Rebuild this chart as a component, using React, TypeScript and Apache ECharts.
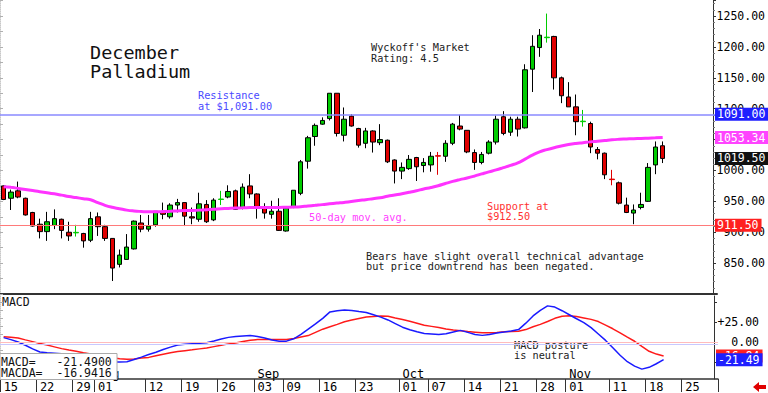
import React, { useEffect, useRef } from 'react';
import * as echarts from 'echarts';

const MONO = '"DejaVu Sans Mono", "Liberation Mono", monospace';

// Trading days (2024), plus a few future sessions on the axis
const julDays = [15, 16, 17, 18, 19, 22, 23, 24, 25, 26, 29, 30, 31];
const augDays = [1, 2, 5, 6, 7, 8, 9, 12, 13, 14, 15, 16, 19, 20, 21, 22, 23, 26, 27, 28, 29, 30];
const sepDays = [3, 4, 5, 6, 9, 10, 11, 12, 13, 16, 17, 18, 19, 20, 23, 24, 25, 26, 27, 30];
const octDays = [1, 2, 3, 4, 7, 8, 9, 10, 11, 14, 15, 16, 17, 18, 21, 22, 23, 24, 25, 28, 29, 30, 31];
const novDays = [1, 4, 5, 6, 7, 8, 11, 12, 13, 14, 15, 18, 19, 20, 21, 22, 25, 26, 27, 29];
const decDays = [2];

const pad = (n: number) => (n < 10 ? '0' + n : '' + n);
const categories: string[] = [
  ...julDays.map((d) => '07-' + pad(d)),
  ...augDays.map((d) => '08-' + pad(d)),
  ...sepDays.map((d) => '09-' + pad(d)),
  ...octDays.map((d) => '10-' + pad(d)),
  ...novDays.map((d) => '11-' + pad(d)),
  ...decDays.map((d) => '12-' + pad(d)),
];

const tickLabelDates = ['07-15', '07-22', '07-29', '08-01', '08-12', '08-19', '08-26', '09-03', '09-09', '09-16', '09-23', '10-01', '10-07', '10-14', '10-21', '10-28', '11-01', '11-11', '11-18', '11-25'];
const monthLabelDates = ['08-01', '09-03', '10-01', '11-01'];
const monthLabelNames = ['Aug', 'Sep', 'Oct', 'Nov'];

// [open, close, low, high]
const candles: number[][] = [
  [975, 953, 952, 976], [955, 965, 936, 969], [967, 957, 955, 982], [955, 928, 927, 956], [932, 910, 909, 933],
  [913, 901, 890, 922], [901, 917, 886, 933], [911, 922, 905, 937], [921, 903, 890, 922], [900, 894, 886, 917],
  [899, 899.8, 893, 912], [898, 886, 875, 899], [887, 922, 884, 933], [925, 909, 894, 932], [909, 890, 886, 912],
  [890, 842, 821, 890], [848, 863, 843, 872], [856, 876, 856, 897], [873, 918, 872, 919], [915, 905, 900, 928],
  [905, 910, 901, 928], [912, 934, 909, 934], [933, 929, 921, 948], [925, 944, 922, 947], [944, 948, 932, 954],
  [948, 926, 910, 948], [925, 923, 913, 940], [921, 946, 917, 964], [945, 917, 915, 952], [920, 952, 918, 955],
  [953, 953.8, 944, 967], [957, 966, 955, 976], [967, 937, 936, 969], [939, 973, 937, 979], [975, 962, 955, 994],
  [962, 940, 922, 963], [941, 931, 922, 947], [929, 934, 922, 951], [934, 903, 902, 955], [902, 939, 901, 940],
  [940, 968, 939, 968], [963, 1014, 960, 1017], [1015, 1053, 1003, 1056], [1055, 1073, 1040, 1076], [1075, 1081, 1074, 1086],
  [1084, 1125, 1081, 1125], [1125, 1060, 1055, 1125], [1057, 1083, 1047, 1102], [1088, 1072, 1071, 1091], [1068, 1041, 1037, 1069],
  [1044, 1064, 1036, 1069], [1064, 1046, 1029, 1065], [1045, 1050, 1041, 1075], [1049, 1014, 1012, 1050], [1017, 999, 979, 1018],
  [999, 1005, 986, 1013], [1003, 1018, 1001, 1025], [1021, 1006, 983, 1022], [1008, 1013, 997, 1020], [1009, 1023, 998, 1030],
  [1024, 1023.2, 993, 1030], [1023, 1044, 1014, 1049], [1044, 1075, 1041, 1077], [1072, 1067, 1065, 1090], [1065, 1030, 1028, 1065],
  [1029, 1013, 1001, 1034], [1013, 1026, 1010, 1030], [1028, 1046, 1026, 1049], [1046, 1083, 1042, 1089], [1087, 1060, 1057, 1096],
  [1062, 1083, 1056, 1087], [1083, 1067, 1055, 1087], [1069, 1163, 1068, 1172], [1164, 1201, 1127, 1219], [1199, 1219, 1184, 1229],
  [1215, 1215.8, 1207, 1254], [1217, 1150, 1131, 1218], [1150, 1121, 1109, 1152], [1119, 1103, 1103, 1143], [1103, 1079, 1057, 1123],
  [1079, 1079.8, 1071, 1098], [1076, 1038, 1028, 1079], [1034, 1028, 1018, 1038], [1028, 993, 986, 1029], [986, 985.2, 976, 1001],
  [980, 947, 945, 982], [944, 932, 931, 956], [931, 936, 913, 945], [940, 945, 937, 964], [950, 1005, 949, 1012],
  [1009, 1038, 994, 1047], [1040, 1019.5, 1012, 1047],
];

const ma50 = [
  973.7, 972.8, 971, 969.2, 967.4, 965.6, 964, 962.2, 960.1, 957.9,
  956.1, 954.3, 952.5, 948, 943.6, 940.4, 938.1, 935.8, 934.4, 933.6,
  933.1, 933.1, 933.4, 933.9, 934.5, 935, 935.3, 935.8, 936.5, 937.1,
  937.9, 938.6, 939.2, 939.5, 939.9, 940.2, 940.2, 940.2, 940.2, 940.5,
  940.8, 941.3, 942.5, 943.6, 944.7, 946, 947.2, 948.3, 949.7, 951.5,
  952.7, 954.3, 955.9, 958.2, 960.3, 962.4, 964.7, 967.2, 970, 972.4,
  975.3, 978.9, 982.3, 985.2, 987.8, 990.9, 994.4, 997.8, 1000.9, 1004.5,
  1008.2, 1012.3, 1018.4, 1024.9, 1030.2, 1033.8, 1036.9, 1039.5, 1041.9, 1043.7,
  1045, 1046.3, 1047.2, 1048.4, 1049.7, 1050.5, 1051, 1051.5, 1051.8, 1052.3,
  1052.8, 1053.34,
];

const macd = [
  6, 3.5, 0.5, -3.5, -8, -11.9, -12.8, -13.3, -14, -16,
  -18, -20, -21.5, -22.8, -23.7, -24.2, -24.3, -24.1, -21.2, -18.3,
  -15, -12.2, -8.8, -5.8, -3.2, -2.4, -1.7, -1, -0.4, 1.8,
  4.2, 6.3, 7.3, 7.9, 8.5, 7.4, 5.5, 3, 1.6, 1.6,
  4.5, 10, 16.5, 23, 30, 38, 39.5, 40.5, 39.8, 38.5,
  37.3, 34.5, 31.5, 28, 23.5, 19, 15.8, 13.2, 11, 10.5,
  10, 10.8, 13, 15, 12.5, 10, 8.8, 10, 11.8, 13,
  14.3, 16, 24, 33, 40, 45.5, 44, 39.5, 34.5, 29.5,
  24.7, 18.5, 10.5, 2.5, -6.5, -16, -24, -29.5, -33.2, -31,
  -26.5, -21.49,
];

const macdSignal = [
  7, 6.5, 5.5, 3.2, 1, -1.2, -3.3, -5.5, -7.7, -9.5,
  -11, -12.8, -14.5, -15.8, -17.5, -19, -20.3, -21, -20.5, -19.5,
  -18.6, -16.5, -14.6, -12.8, -11.4, -10.2, -9.2, -8, -6.8, -5.2,
  -3.6, -1.8, -0.7, 1.1, 2.6, 3.6, 3.7, 3.7, 3.7, 3.7,
  5, 6.8, 8.5, 12.5, 16.5, 19.5, 22.5, 25.8, 28, 29.8,
  31.6, 32.3, 33, 32.5, 30.3, 28.5, 26.4, 24, 21.5, 20,
  18.5, 16.8, 15.5, 14.5, 13.6, 12.8, 12, 12, 12.5, 13.2,
  13.6, 13.8, 16, 19.5, 22.5, 26, 30, 32.5, 33.2, 32.3,
  30.5, 28.7, 26, 21.5, 17, 12, 6.5, 1.5, -5, -11,
  -14.5, -16.94,
];

const resistance = 1091;
const support = 911.5;
const lastClose = 1019.5;
const lastMa = 1053.34;
const lastMacd = -21.49;
const lastSignal = -16.94;
const macdTickValues = [-25, 0, 25, 50];
const macdLabelValues = [0, 25];
const macdLeftTicks = [-40, -30, -20, -10, 0, 10, 20, 30, 40, 50];

const GREEN = '#00cc00';
const RED = '#e00000';

const tag = (text: string, bg: string) => ({
  show: true,
  position: 'end',
  formatter: text,
  backgroundColor: bg,
  color: '#fff',
  fontFamily: MONO,
  fontSize: 11.5,
  lineHeight: 12,
  padding: [1, 3, 0, 2],
  distance: -2,
});

export default function App() {
  const ref = useRef<HTMLDivElement>(null);

  useEffect(() => {
    const chart = echarts.init(ref.current!, null, { renderer: 'svg' });

    const candleData = candles.map((c) => {
      const isDoji = Math.abs(c[0] - c[1]) < 1.5;
      if (isDoji) {
        const col = c[1] >= c[0] ? GREEN : RED;
        return { value: c, itemStyle: { borderColor: col, borderColor0: col } };
      }
      return { value: c };
    });

    const tickSet = new Set(tickLabelDates);

    const option: any = {
      animation: false,
      backgroundColor: '#fff',
      textStyle: { fontFamily: MONO },
      grid: [
        { left: 0, right: 50, top: 0, height: 294 },
        { left: 0, right: 50, top: 296, height: 84 },
      ],
      xAxis: [
        {
          type: 'category', gridIndex: 0, data: categories, boundaryGap: true, position: 'bottom',
          axisLine: { onZero: false, lineStyle: { color: '#333', width: 2 } },
          axisTick: { show: false }, axisLabel: { show: false }, splitLine: { show: false },
        },
        {
          type: 'category', gridIndex: 1, data: categories, boundaryGap: true, position: 'bottom',
          axisLine: { onZero: false, lineStyle: { color: '#333', width: 1.5 } },
          axisTick: {
            show: true, length: 13, lineStyle: { color: '#333' },
            interval: (i: number) => tickSet.has(categories[i]),
          },
          axisLabel: {
            interval: (i: number) => tickSet.has(categories[i]),
            formatter: (v: string) => v.slice(3),
            align: 'left', margin: 2, fontSize: 12, fontFamily: MONO, color: '#000',
          },
          splitLine: { show: false },
        },
        {
          type: 'category', gridIndex: 1, data: categories, boundaryGap: true, position: 'top', offset: -84,
          axisLine: { show: false, onZero: false }, axisTick: { show: false },
          axisLabel: {
            interval: (i: number) => monthLabelDates.indexOf(categories[i]) >= 0,
            formatter: (v: string) => {
              const k = monthLabelDates.indexOf(v);
              return k >= 0 ? monthLabelNames[k] : '';
            },
            align: 'left', margin: 0, fontSize: 12, fontFamily: MONO, color: '#000',
          },
          splitLine: { show: false },
        },
      ],
      yAxis: [
        {
          type: 'value', gridIndex: 0, position: 'right', offset: -4,
          min: 800, max: 1276, interval: 50,
          splitLine: { show: false },
          axisLine: { show: true, onZero: false, lineStyle: { color: '#333' } },
          axisTick: { show: true, length: 3, lineStyle: { color: '#333' } },
          minorTick: { show: true, splitNumber: 5, length: 2, lineStyle: { color: '#777' } },
          axisLabel: {
            align: 'right', margin: 52, fontFamily: MONO, fontSize: 11.5, color: '#000',
            formatter: (v: number) => (v >= 850 && v <= 1250 ? v.toFixed(2) : ''),
          },
        },
        {
          type: 'value', gridIndex: 1, position: 'right', offset: -4,
          min: -45.5, max: 57.8,
          splitLine: { show: false },
          axisLine: { show: true, onZero: false, lineStyle: { color: '#333' } },
          axisTick: { show: true, length: 3, lineStyle: { color: '#333' }, customValues: macdTickValues },
          axisLabel: {
            customValues: macdLabelValues,
            align: 'right', margin: 45, fontFamily: MONO, fontSize: 11.5, color: '#000',
            formatter: (v: number) => (v === 0 ? '0.00' : '+' + v.toFixed(2)),
          },
        },
        {
          type: 'value', gridIndex: 0, position: 'left',
          min: 800, max: 1276, interval: 25,
          splitLine: { show: false },
          axisLine: { show: true, onZero: false, lineStyle: { color: '#c8c8c8', type: 'dotted' } },
          axisTick: { show: true, inside: true, length: 3, lineStyle: { color: '#b0b0b0' } },
          axisLabel: { show: false },
        },
        {
          type: 'value', gridIndex: 1, position: 'left',
          min: -45.5, max: 57.8,
          splitLine: { show: false },
          axisLine: { show: true, onZero: false, lineStyle: { color: '#c8c8c8', type: 'dotted' } },
          axisTick: { show: true, inside: true, length: 3, lineStyle: { color: '#b0b0b0' }, customValues: macdLeftTicks },
          axisLabel: { show: false },
        },
      ],
      series: [
        {
          type: 'candlestick', xAxisIndex: 0, yAxisIndex: 0, data: candleData, barWidth: 5,
          itemStyle: { color: GREEN, color0: RED, borderColor: '#000', borderColor0: '#000', borderWidth: 1 },
          markLine: {
            symbol: 'none', silent: true, animation: false,
            data: [
              { yAxis: resistance, lineStyle: { color: '#8a8aff', width: 1.5, type: 'solid' }, label: tag(resistance.toFixed(2), '#1f1fff') },
              { yAxis: support, lineStyle: { color: '#ff7a7a', width: 1, type: 'solid' }, label: tag(support.toFixed(2), '#ff2020') },
              { yAxis: lastClose, lineStyle: { color: 'rgba(0,0,0,0)', width: 0 }, label: tag(lastClose.toFixed(2), '#111') },
            ],
          },
        },
        {
          type: 'line', xAxisIndex: 0, yAxisIndex: 0, data: ma50, smooth: true, showSymbol: false,
          lineStyle: { color: '#ff33ff', width: 3 },
          markLine: {
            symbol: 'none', silent: true, animation: false,
            data: [{ yAxis: lastMa, lineStyle: { color: 'rgba(0,0,0,0)', width: 0 }, label: tag(lastMa.toFixed(2), '#ff44ff') }],
          },
        },
        {
          type: 'line', xAxisIndex: 1, yAxisIndex: 1, data: macdSignal, showSymbol: false,
          lineStyle: { color: '#ff1a1a', width: 1.5 }, z: 3,
          markLine: {
            symbol: 'none', silent: true, animation: false,
            data: [
              { yAxis: 0, lineStyle: { color: '#ffbcbc', width: 1, type: 'solid' }, label: { show: false } },
              { yAxis: -2.8, lineStyle: { color: '#c8c8ff', width: 1, type: 'solid' }, label: { show: false } },
              { yAxis: lastSignal, lineStyle: { color: 'rgba(0,0,0,0)', width: 0 }, label: tag(lastSignal.toFixed(2), '#ff2020') },
            ],
          },
        },
        {
          type: 'line', xAxisIndex: 1, yAxisIndex: 1, data: macd, showSymbol: false,
          lineStyle: { color: '#1a1aff', width: 1.5 }, z: 4,
          markLine: {
            symbol: 'none', silent: true, animation: false,
            data: [{ yAxis: lastMacd, lineStyle: { color: 'rgba(0,0,0,0)', width: 0 }, label: tag(lastMacd.toFixed(2), '#1f1fff') }],
          },
        },
      ],
      graphic: [
        { type: 'text', x: 90, y: 52.5, style: { text: 'December', font: '18.5px ' + MONO, fill: '#111', verticalAlign: 'middle' } },
        { type: 'text', x: 90, y: 71.5, style: { text: 'Palladium', font: '18.5px ' + MONO, fill: '#111', verticalAlign: 'middle' } },
        { type: 'text', x: 371, y: 47, style: { text: "Wyckoff's Market", font: '10.25px ' + MONO, fill: '#222', verticalAlign: 'middle' } },
        { type: 'text', x: 371, y: 58, style: { text: 'Rating: 4.5', font: '10.25px ' + MONO, fill: '#222', verticalAlign: 'middle' } },
        { type: 'text', x: 198, y: 95, style: { text: 'Resistance', font: '10.25px ' + MONO, fill: '#4a4aff', verticalAlign: 'middle' } },
        { type: 'text', x: 198, y: 105.5, style: { text: 'at $1,091.00', font: '10.25px ' + MONO, fill: '#4a4aff', verticalAlign: 'middle' } },
        { type: 'text', x: 309, y: 217, style: { text: '50-day mov. avg.', font: '10.25px ' + MONO, fill: '#ff40ff', verticalAlign: 'middle' } },
        { type: 'text', x: 487, y: 206, style: { text: 'Support at', font: '10.25px ' + MONO, fill: '#ff3030', verticalAlign: 'middle' } },
        { type: 'text', x: 487, y: 216, style: { text: '$912.50', font: '10.25px ' + MONO, fill: '#ff3030', verticalAlign: 'middle' } },
        { type: 'text', x: 366, y: 256, style: { text: 'Bears have slight overall technical advantage', font: '10.25px ' + MONO, fill: '#222', verticalAlign: 'middle' } },
        { type: 'text', x: 366, y: 266, style: { text: 'but price downtrend has been negated.', font: '10.25px ' + MONO, fill: '#222', verticalAlign: 'middle' } },
        { type: 'text', x: 514, y: 344.7, style: { text: 'MACD posture', font: '10.25px ' + MONO, fill: '#222', verticalAlign: 'middle' } },
        { type: 'text', x: 514, y: 354.7, style: { text: 'is neutral', font: '10.25px ' + MONO, fill: '#222', verticalAlign: 'middle' } },
        { type: 'text', x: 2, y: 302, style: { text: 'MACD', font: '11.5px ' + MONO, fill: '#111', verticalAlign: 'middle' } },
        {
          type: 'group', z: 100,
          children: [
            { type: 'rect', z: 100, shape: { x: 0, y: 353.5, width: 117, height: 26 }, style: { fill: '#fff', stroke: '#aaa', lineWidth: 1 } },
            { type: 'text', z: 101, x: 1, y: 361.7, style: { text: 'MACD=   ' + (-21.49).toFixed(4), font: '11.5px ' + MONO, fill: '#111', verticalAlign: 'middle' } },
            { type: 'text', z: 101, x: 1, y: 372.7, style: { text: 'MACDA=  ' + (-16.9416).toFixed(4), font: '11.5px ' + MONO, fill: '#111', verticalAlign: 'middle' } },
          ],
        },
        {
          type: 'polygon', z: 100,
          shape: { points: [[753, 387], [759, 382], [759, 385], [766, 385], [766, 389], [759, 389], [759, 392]] },
          style: { fill: '#e00000' },
        },
      ],
    };

    chart.setOption(option);
    return () => chart.dispose();
  }, []);

  return (
    <div
      ref={ref}
      style={{ position: 'fixed', left: 0, top: 0, width: 768, height: 393, background: '#fff' }}
    />
  );
}
